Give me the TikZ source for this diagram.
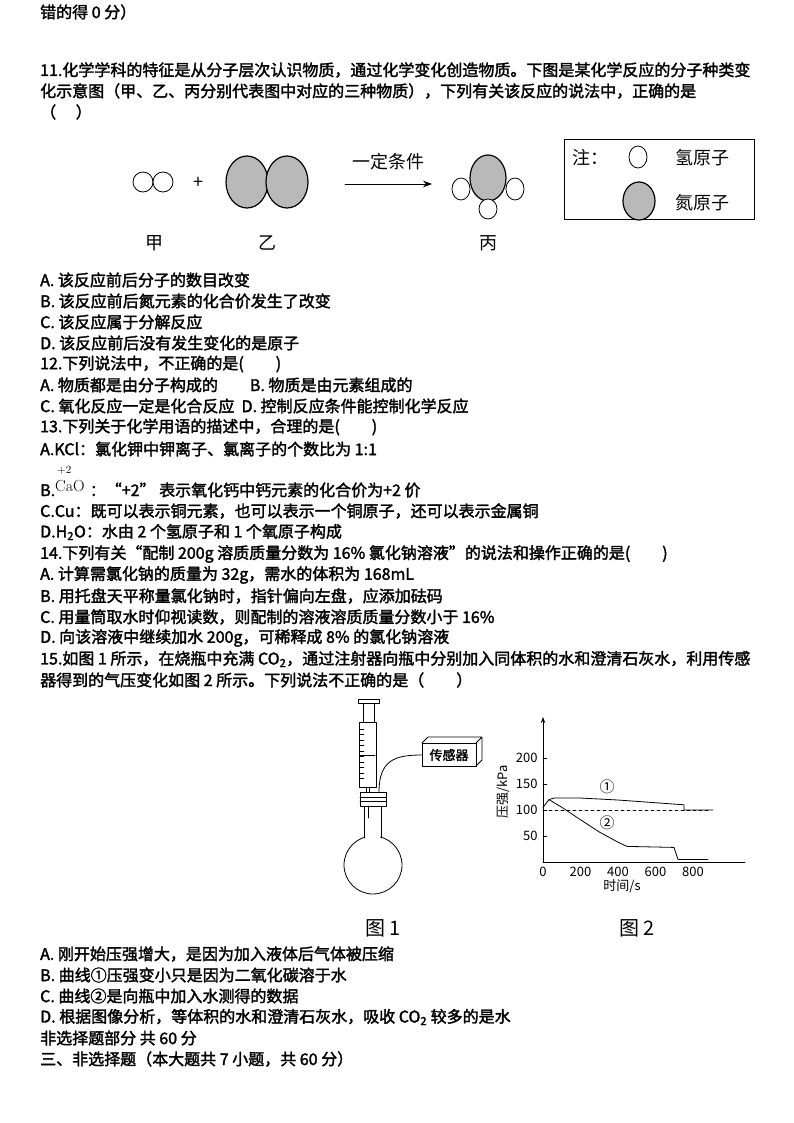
\documentclass[tikz,border=0pt]{standalone}
\usepackage{fontspec}
\setmainfont{Noto Sans CJK SC}[AutoFakeBold=2]
\newfontfamily\lmrm{Latin Modern Roman}
\usetikzlibrary{arrows.meta,positioning}
\tikzset{
  line/.style={anchor=west,inner sep=0pt,font=\fontsize{16}{18}\selectfont\bfseries},
  hatom/.style={draw,thick,fill=white},
  natom/.style={draw,very thick,fill=gray!55},
  lbl/.style={font=\fontsize{18}{20}\selectfont},
}
\begin{document}
\begin{tikzpicture}[x=1pt,y=-1pt,line join=round,line cap=round]
\useasboundingbox[fill=white] (0,0) rectangle (794,1123);
% text lines
\node[line] (t1) at (40,12) {错的得 0 分）};
\node[line] (t2) at (40,70) {11.化学学科的特征是从分子层次认识物质，通过化学变化创造物质。下图是某化学反应的分子种类变};
\node[line] (t3) at (40,91) {化示意图（甲、乙、丙分别代表图中对应的三种物质），下列有关该反应的说法中，正确的是};
\node[line] (t4) at (40,112) {（\quad\ ）};
% molecules
\draw[hatom] (143,182) circle [radius=10];
\draw[hatom] (163,182) circle [radius=10];
\node[lbl] (plus) at (198,183) {+};
\draw[natom] (247,182) ellipse [x radius=21,y radius=26];
\draw[natom] (287,182) ellipse [x radius=21,y radius=26];
\coordinate (a1) at (345,184);
\coordinate (a2) at (432,184);
\draw[thick,-{Stealth[length=9pt]}] (a1) -- (a2);
\node[lbl] (cond) at (388,162) {一定条件};
\draw[natom] (488,178) ellipse [x radius=18,y radius=23];
\draw[hatom] (461,189) ellipse [x radius=9,y radius=11];
\draw[hatom] (515,189) ellipse [x radius=9,y radius=11];
\draw[hatom] (488,209) ellipse [x radius=9,y radius=10];
\node[lbl] (jia) at (154,243) {甲};
\node[lbl] (yi) at (267,243) {乙};
\node[lbl] (bing) at (488,243) {丙};
% legend
\draw[thick] (564,139) rectangle (754,219);
\node[lbl] (zhu) at (590,158) {注：};
\draw[hatom] (638,157) ellipse [x radius=9,y radius=11];
\node[lbl] (hlbl) at (702,158) {氢原子};
\draw[natom] (639,201) ellipse [x radius=16,y radius=19];
\node[lbl] (nlbl) at (702,203) {氮原子};
% options
\node[line] (l11a) at (40,280) {A.\ 该反应前后分子的数目改变};
\node[line] (l11b) at (40,301) {B.\ 该反应前后氮元素的化合价发生了改变};
\node[line] (l11c) at (40,322) {C.\ 该反应属于分解反应};
\node[line] (l11d) at (40,343) {D.\ 该反应前后没有发生变化的是原子};
\node[line] (q12) at (40,364) {12.下列说法中，不正确的是(\qquad)};
\node[line] (l12a) at (40,385) {A.\ 物质都是由分子构成的\qquad B.\ 物质是由元素组成的};
\node[line] (l12c) at (40,406) {C.\ 氧化反应一定是化合反应\ \ D.\ 控制反应条件能控制化学反应};
\node[line] (q13) at (40,427) {13.下列关于化学用语的描述中，合理的是(\qquad)};
\node[line] (l13a) at (40,449) {A.KCl：氯化钾中钾离子、氯离子的个数比为 1:1};
\node[line] (l13b) at (40,490) {B.\phantom{CaO}\ ：“+2” 表示氧化钙中钙元素的化合价为+2 价};
\node[anchor=west,inner sep=0pt,font=\lmrm\fontsize{11}{12}\selectfont] (cao2) at (57,470) {+2};
\node[anchor=west,inner sep=0pt,font=\lmrm\fontsize{16}{18}\selectfont] (cao) at (55,486) {CaO};
\node[line] (l13c) at (40,511) {C.Cu：既可以表示铜元素，也可以表示一个铜原子，还可以表示金属铜};
\node[line] (l13d) at (40,532) {D.H\textsubscript{2}O：水由 2 个氢原子和 1 个氧原子构成};
\node[line] (q14) at (40,554) {14.下列有关“配制 200g 溶质质量分数为 16\% 氯化钠溶液”的说法和操作正确的是(\qquad)};
\node[line] (l14a) at (40,575) {A.\ 计算需氯化钠的质量为 32g，需水的体积为 168mL};
\node[line] (l14b) at (40,596) {B.\ 用托盘天平称量氯化钠时，指针偏向左盘，应添加砝码};
\node[line] (l14c) at (40,617) {C.\ 用量筒取水时仰视读数，则配制的溶液溶质质量分数小于 16\%};
\node[line] (l14d) at (40,638) {D.\ 向该溶液中继续加水 200g，可稀释成 8\% 的氯化钠溶液};
\node[line] (q15) at (40,659) {15.如图 1 所示，在烧瓶中充满 CO\textsubscript{2}，通过注射器向瓶中分别加入同体积的水和澄清石灰水，利用传感};
\node[line] (q15b) at (40,680) {器得到的气压变化如图 2 所示。下列说法不正确的是（\qquad ）};
% fig 1: flask and syringe
\draw[thick] (373,865) circle [radius=29];
\fill[white] (364,805) rectangle (380,840);
\draw[thick] (364,806) -- (364,838) (381,806) -- (381,838);
\draw[thick,fill=white] (360,792) rectangle (386,806);
\draw[thick] (360,797) -- (386,797) (360,801) -- (386,801);
\draw[thick] (368,806) -- (368,818);
\draw[thick] (358,699) rectangle (379,703);
\draw[thick] (363,703) rectangle (374,722);
\draw[thick] (359,722) rectangle (376,787);
\draw[thick] (360,755) -- (375,755);
\foreach \k in {0,...,9} \draw (360,{729+\k*5.5}) -- (364,{729+\k*5.5});
\draw[thick] (366,787) -- (366,792) (369,787) -- (369,792);
\coordinate (tubeA) at (379,792);
\coordinate (tubeB) at (422,755);
\draw[thick] (tubeA) .. controls (379,760) and (395,755) .. (tubeB);
\draw[thick,fill=white] (422,743) rectangle (476,766);
\draw[thick] (422,743) -- (428,737) -- (482,737) -- (476,743) (482,737) -- (482,760) -- (476,766);
\node[font=\fontsize{13}{15}\selectfont\bfseries] (sensor) at (449,755) {传感器};
% fig 2: graph
\coordinate (O) at (543,862);
\draw[thick,-{Stealth[length=6pt]}] (O) -- (543,717);
\draw[thick] (O) -- (745,862);
\foreach \v in {50,100,150,200} {
  \draw (543,{862-0.52*\v}) -- (547,{862-0.52*\v});
  \node[anchor=east,font=\fontsize{13}{15}\selectfont] at (541,{862-0.52*\v}) {\v};
}
\foreach \t in {0,200,400,600,800}
  \node[font=\fontsize{13}{15}\selectfont] at ({543+0.1875*\t},872) {\t};
\draw[thick,dashed] (543,810) -- (708,810);
\draw[thick] (543,807.4) -- (549,799.6) -- (554,798) -- (580,798) -- (618,800) -- (684,804.8) -- (684,810) -- (713,810);
\draw[thick] (549,799.6) -- (562,807.4) -- (580,819.4) -- (599,831.8) -- (618,842.2) -- (627,846.4) -- (674,847.4) -- (678,859.4) -- (708,859.4);
\node[font=\fontsize{15}{17}\selectfont] (c1) at (607,787) {①};
\node[font=\fontsize{15}{17}\selectfont] (c2) at (607,823) {②};
\node[rotate=90,font=\fontsize{13}{15}\selectfont] (ylab) at (503,792) {压强/kPa};
\node[font=\fontsize{13}{15}\selectfont] (xlab) at (622,886) {时间/s};
\node[font=\fontsize{20}{22}\selectfont] (fig1) at (383,928) {图 1};
\node[font=\fontsize{20}{22}\selectfont] (fig2) at (637,928) {图 2};
% answers 15
\node[line] (l15a) at (40,954) {A.\ 刚开始压强增大，是因为加入液体后气体被压缩};
\node[line] (l15b) at (40,975) {B.\ 曲线①压强变小只是因为二氧化碳溶于水};
\node[line] (l15c) at (40,996) {C.\ 曲线②是向瓶中加入水测得的数据};
\node[line] (l15d) at (40,1017) {D.\ 根据图像分析，等体积的水和澄清石灰水，吸收 CO\textsubscript{2} 较多的是水};
\node[line] (s1) at (40,1038) {非选择题部分 共 60 分};
\node[line] (s2) at (40,1059) {三、非选择题（本大题共 7 小题，共 60 分）};
\end{tikzpicture}
\end{document}
